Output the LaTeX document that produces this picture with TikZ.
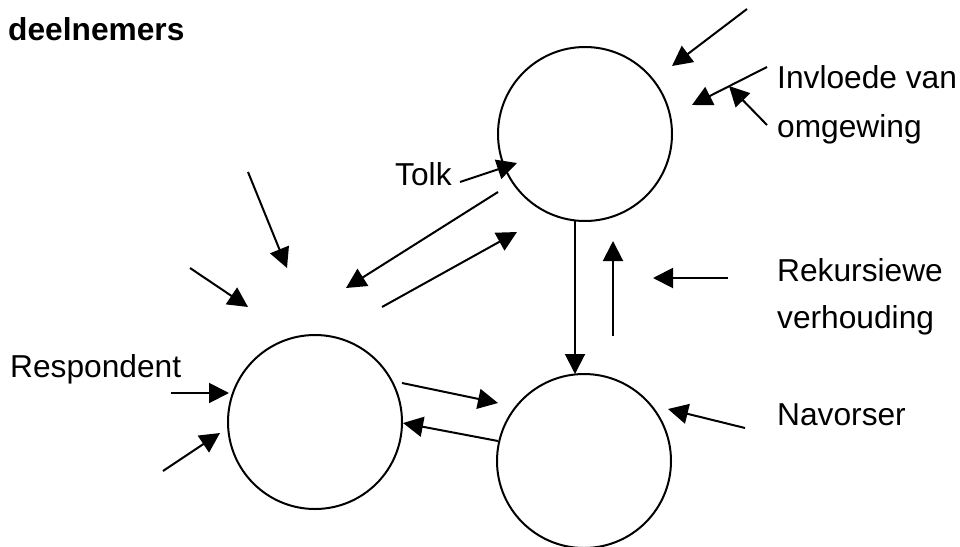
\documentclass[tikz,border=0pt]{standalone}
\usepackage{fontspec}
\setmainfont{Liberation Sans}
\usetikzlibrary{arrows.meta}
\begin{document}
\begin{tikzpicture}[x=1pt,y=-1pt,
  party/.style={circle,draw,line width=2pt,minimum size=174pt,inner sep=0pt},
  flow/.style={line width=2pt,-{Triangle[length=20pt,width=20pt]}},
  lbl/.style={anchor=base west,inner sep=0pt,font=\fontsize{31.7}{38}\selectfont}]
\useasboundingbox (0,0) rectangle (960,546);

% the three participants
\node[party] (tolk) at (585,134) {};
\node[party] (resp) at (315,422) {};
\node[party] (nav)  at (584,461) {};

% labels
\node[lbl,font=\fontsize{31.7}{38}\selectfont\bfseries] (title) at (8,40) {deelnemers};
\node[lbl] (ltolk) at (395,185) {Tolk};
\node[lbl] (linv1) at (777,88) {Invloede van};
\node[lbl] (linv2) at (777,137) {omgewing};
\node[lbl] (lrek1) at (777,281) {Rekursiewe};
\node[lbl] (lrek2) at (777,328) {verhouding};
\node[lbl] (lnav)  at (777,425) {Navorser};
\node[lbl] (lresp) at (10,377) {Respondent};

% end points of the connectors
\coordinate (a1s) at (747,9);   \coordinate (a1e) at (672,66);
\coordinate (a2s) at (767,67);  \coordinate (a2e) at (692,105);
\coordinate (a3s) at (767,125); \coordinate (a3e) at (729,86);
\coordinate (a4s) at (460,182); \coordinate (a4e) at (517,163);
\coordinate (a5s) at (498,192); \coordinate (a5e) at (346,288);
\coordinate (a6s) at (382,307); \coordinate (a6e) at (517,232);
\coordinate (a7s) at (248,172); \coordinate (a7e) at (287,268);
\coordinate (a8s) at (190,268); \coordinate (a8e) at (248,307);
\coordinate (a9s) at (171,393); \coordinate (a9e) at (229,393);
\coordinate (b1s) at (163,471); \coordinate (b1e) at (220,433);
\coordinate (b2s) at (402,383); \coordinate (b2e) at (498,403);
\coordinate (b3s) at (498,441); \coordinate (b3e) at (403,423);
\coordinate (b4s) at (575,221); \coordinate (b4e) at (575,374);
\coordinate (b5s) at (613,336); \coordinate (b5e) at (613,241);
\coordinate (b6s) at (728,278); \coordinate (b6e) at (653,278);
\coordinate (b7s) at (745,428); \coordinate (b7e) at (668,409);

% connectors
\foreach \s/\e in {a1s/a1e,a2s/a2e,a3s/a3e,a4s/a4e,a5s/a5e,a6s/a6e,
                   a7s/a7e,a8s/a8e,a9s/a9e,b1s/b1e,b2s/b2e,b3s/b3e,
                   b4s/b4e,b5s/b5e,b6s/b6e,b7s/b7e}
  \draw[flow] (\s) -- (\e);
\end{tikzpicture}
\end{document}
